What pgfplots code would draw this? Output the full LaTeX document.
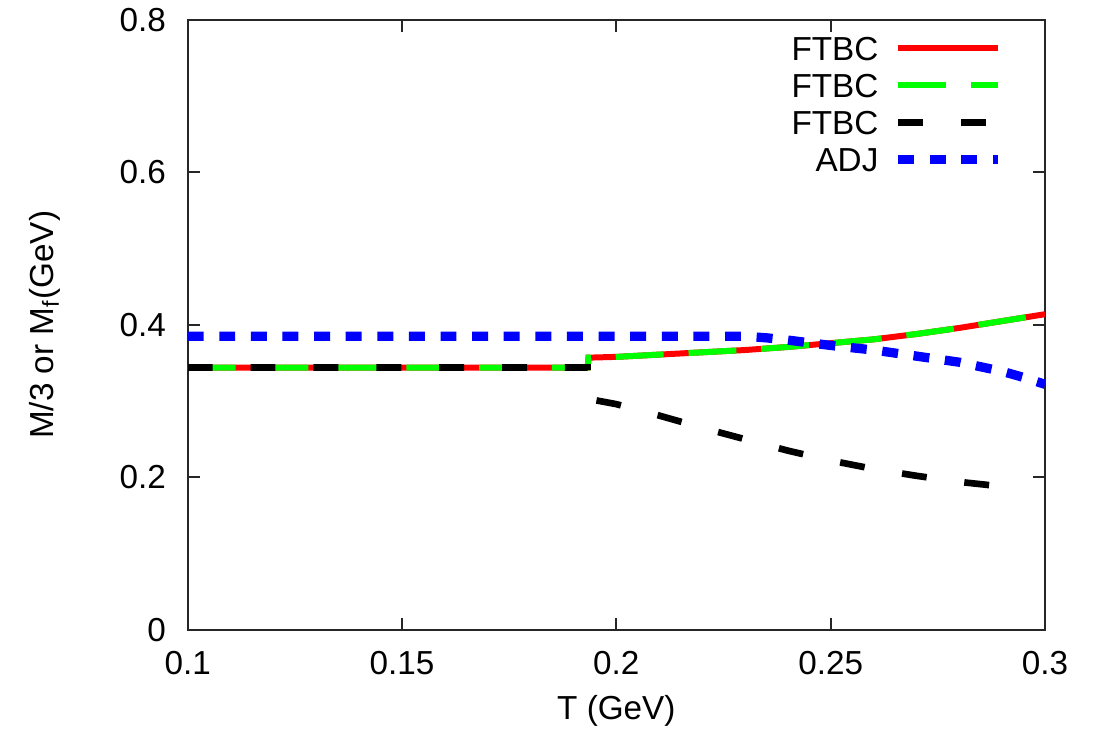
\documentclass[border=0pt]{standalone}
\usepackage{pgfplots}
\pgfplotsset{compat=1.18}
\usepackage{fontspec}
\setmainfont{Liberation Sans}
\usetikzlibrary{calc}
\begin{document}
{\fontsize{10}{12}\selectfont
\begin{tikzpicture}
\begin{axis}[
  scale only axis,
  width=257.7pt, height=183.3pt,
  xmin=0.1, xmax=0.3, ymin=0, ymax=0.8,
  xtick={0.1,0.15,0.2,0.25,0.3},
  xticklabels={0.1,0.15,0.2,0.25,0.3},
  ytick={0,0.2,0.4,0.6,0.8},
  yticklabels={0,0.2,0.4,0.6,0.8},
  tick align=inside, xtick pos=both, ytick pos=both,
  major tick length=3.6pt,
  axis line style={line width=0.6pt, black!85},
  every tick/.style={line width=0.6pt, black!85},
  /pgf/number format/assume math mode=true,
  yticklabel style={xshift=-3pt},
  xticklabel style={yshift=-3pt},
  xlabel={T (GeV)},
  ylabel={M/3 or M\textsubscript{f}(GeV)},
  xlabel style={at={(axis description cs:0.5,-0.1326)}, anchor=center},
  ylabel style={at={(axis description cs:-0.1665,0.5)}, anchor=center},
  legend plot pos=right,
  legend cell align=right,
  legend style={draw=none, fill=none, at={(rel axis cs:1,1)}, anchor=north east,
    xshift=-12.6pt, yshift=-4.6pt, inner sep=0pt, row sep=3.6pt, column sep=4.5pt,
    nodes={inner sep=0pt, text height=7.5pt, text depth=0pt}},
  legend image code/.code={\draw[#1] (0pt,0pt) -- (30pt,0pt);},
]
\addplot[red, line width=1.8pt] coordinates {
(0.1,0.344) (0.1933,0.344) (0.1935,0.357) (0.2,0.358) (0.21,0.361) (0.22,0.364)
(0.23,0.367) (0.24,0.371) (0.25,0.376) (0.26,0.381) (0.27,0.388) (0.28,0.396)
(0.29,0.405) (0.3,0.414)};
\addlegendentry{FTBC}
\addplot[green, line width=1.8pt, dash pattern=on 14.4pt off 7.5pt] coordinates {
(0.1,0.344) (0.1933,0.344) (0.1935,0.357) (0.2,0.358) (0.21,0.361) (0.22,0.364)
(0.23,0.367) (0.24,0.371) (0.25,0.376) (0.26,0.381) (0.27,0.388) (0.28,0.396)
(0.29,0.405) (0.3,0.414)};
\addlegendentry{FTBC}
\addplot[black, line width=2pt, dash pattern=on 7.5pt off 11.4pt] coordinates {
(0.1,0.344) (0.1933,0.344) (0.1933,0.303) (0.2,0.296) (0.21,0.281) (0.22,0.265)
(0.23,0.250) (0.24,0.235) (0.25,0.222) (0.26,0.211) (0.27,0.202) (0.28,0.194)
(0.29,0.188) (0.295,0.186)};
\addlegendentry{FTBC}
\addplot[blue, line width=2.8pt, dash pattern=on 4.8pt off 4.7pt] coordinates {
(0.1,0.385) (0.23,0.385) (0.235,0.383) (0.24,0.380) (0.25,0.373) (0.26,0.367)
(0.27,0.359) (0.28,0.351) (0.29,0.339) (0.295,0.331) (0.3,0.322)};
\addlegendentry{ADJ}
\end{axis}
\pgfresetboundingbox
\path ($(current axis.south west)+(-56.4pt,-33.9pt)$) rectangle ($(current axis.north east)+(15.3pt,6pt)$);
\end{tikzpicture}}
\end{document}
